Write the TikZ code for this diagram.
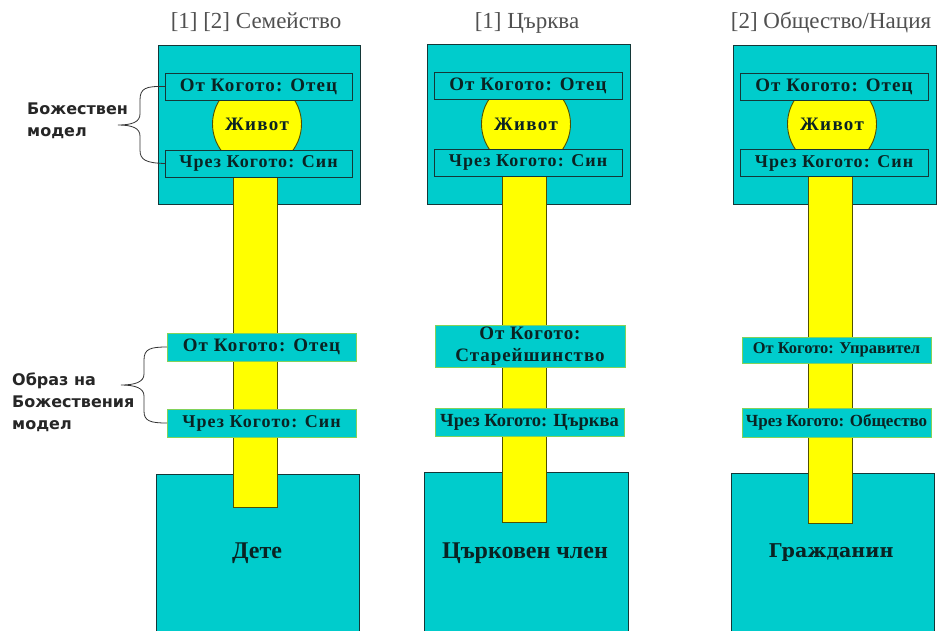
\documentclass[tikz,border=0pt]{standalone}
\usepackage{fontspec}
\setmainfont{Liberation Serif}
\newfontfamily\boxserif[LetterSpace=6]{Liberation Serif}
\newfontfamily\wideserif[LetterSpace=5]{Liberation Serif}
\newfontfamily\circserif[LetterSpace=7]{Liberation Serif}
\newfontfamily\labsans{DejaVu Sans}
\newfontfamily\citserif{DejaVu Serif}
\definecolor{tealA}{RGB}{0,204,204}
\definecolor{boxline}{RGB}{20,55,55}
\definecolor{yel}{RGB}{255,255,0}
\definecolor{yelline}{RGB}{80,80,0}
\definecolor{midline}{RGB}{130,210,90}
\definecolor{txt}{RGB}{10,35,35}
\definecolor{ttl}{RGB}{80,80,80}
\begin{document}
\begin{tikzpicture}[x=1pt,y=-1pt,
  topbox/.style={draw=boxline,fill=tealA,line width=0.9pt,inner sep=0pt,outer sep=0pt},
  inbox/.style={draw=boxline,fill=tealA,line width=0.9pt,inner sep=0pt,outer sep=0pt,minimum width=187,minimum height=27,text=txt,font=\boxserif\fontsize{19}{21}\selectfont\bfseries},
  chfont/.style={font=\boxserif\fontsize{18}{20}\selectfont\bfseries},
  midbox/.style={draw=midline,fill=tealA,line width=0.6pt,inner sep=0pt,outer sep=0pt,minimum width=189,minimum height=28,text=txt,font=\boxserif\fontsize{19}{21}\selectfont\bfseries,align=center},
  bar/.style={draw=yelline,fill=yel,line width=0.9pt,inner sep=0pt,outer sep=0pt,minimum width=44},
  circ/.style={circle,draw=yelline,fill=yel,line width=0.9pt,inner sep=0pt,minimum size=89,text=txt,font=\circserif\fontsize{19}{21}\selectfont\bfseries},
  ttlnode/.style={text=ttl,font=\fontsize{23}{25}\selectfont,inner sep=0pt},
  botlab/.style={text=txt,font=\fontsize{24}{26}\selectfont\bfseries,inner sep=0pt},
  sidelab/.style={text=black!85,font=\labsans\fontsize{16}{22}\selectfont\bfseries,align=left,inner sep=0pt,anchor=north west},
  brace/.style={draw=black!80,line width=0.8pt}]
\useasboundingbox (0,0) rectangle (937,630);

% titles
\node[ttlnode] (H1) at (256,22.5) {[1] [2] Семейство};
\node[ttlnode] (H2) at (527,22.5) {[1] Църква};
\node[ttlnode] (H3) at (831,22.5) {[2] Общество/Нация};

% top boxes
\node[topbox,minimum width=202,minimum height=159] (T1) at (259,124.5) {};
\node[topbox,minimum width=203,minimum height=160] (T2) at (528.5,124) {};
\node[topbox,minimum width=203,minimum height=159] (T3) at (834.5,124.5) {};

% bottom boxes
\node[topbox,minimum width=203,minimum height=170,anchor=north] (D1) at (257.5,474) {};
\node[topbox,minimum width=204,minimum height=170,anchor=north] (D2) at (526,472) {};
\node[topbox,minimum width=203,minimum height=170,anchor=north] (D3) at (832.5,473) {};

% bars
\node[bar,minimum height=335,anchor=north] (R1) at (255,172) {};
\node[bar,minimum height=350,anchor=north] (R2) at (524.5,172) {};
\node[bar,minimum height=351,anchor=north] (R3) at (830.5,172) {};

% circles
\node[circ] (C1) at (257,124) {Живот};
\node[circ] (C2) at (526,124) {Живот};
\node[circ] (C3) at (832,124) {Живот};

% inner boxes
\node[inbox] (A1) at (258.5,86.5) {От Когото: Отец};
\node[inbox,chfont] (B1) at (258.5,163.5) {Чрез Когото: Син};
\node[inbox,minimum width=188] (A2) at (528,86) {От Когото: Отец};
\node[inbox,chfont,minimum width=188] (B2) at (528,162.5) {Чрез Когото: Син};
\node[inbox,minimum width=188] (A3) at (834,86.5) {От Когото: Отец};
\node[inbox,chfont,minimum width=188] (B3) at (834,163) {Чрез Когото: Син};

% middle boxes
\node[midbox] (M1) at (261.5,347) {От Когото: Отец};
\node[midbox,chfont] (N1) at (261.5,423) {Чрез Когото: Син};
\node[midbox,minimum width=190,minimum height=42,font=\wideserif\fontsize{19}{22}\selectfont\bfseries] (M2) at (530,346) {От Когото:\\Старейшинство};
\node[midbox,font=\fontsize{18.5}{20}\selectfont\bfseries] (N2) at (529.5,422) {Чрез Когото: Църква};
\node[midbox,minimum height=26,font=\fontsize{16.5}{18}\selectfont\bfseries] (M3) at (836.5,350) {От Когото: Управител};
\node[midbox,minimum height=29,font=\fontsize{17}{19}\selectfont\bfseries] (N3) at (836.5,422.5) {Чрез Когото: Общество};

% bottom labels
\node[botlab] (L1) at (257,553) {Дете};
\node[botlab] (L2) at (525,553) {Църковен член};
\node[botlab,font=\citserif\fontsize{19}{21}\selectfont\bfseries] (L3) at (831,553) {Гражданин};

% side labels
\node[sidelab] (S1) at (27,103) {Божествен\\модел};
\node[sidelab] (S2) at (12,373) {Образ на\\Божествения\\модел};

% braces
\coordinate (P1) at (118,125);
\coordinate (P2) at (121,385);
\draw[brace] (A1.west) .. controls (146,86) and (140,88) .. (140,100) -- (140,114)
  .. controls (140,122) and (132,125) .. (P1)
  .. controls (132,125) and (140,128) .. (140,136) -- (140,150)
  .. controls (140,160) and (146,163) .. (B1.west);
\draw[brace] (M1.west) .. controls (150,347) and (144,349) .. (144,360) -- (144,374)
  .. controls (144,382) and (135,385) .. (P2)
  .. controls (135,385) and (144,388) .. (144,396) -- (144,411)
  .. controls (144,421) and (150,423) .. (N1.west);
\end{tikzpicture}
\end{document}
